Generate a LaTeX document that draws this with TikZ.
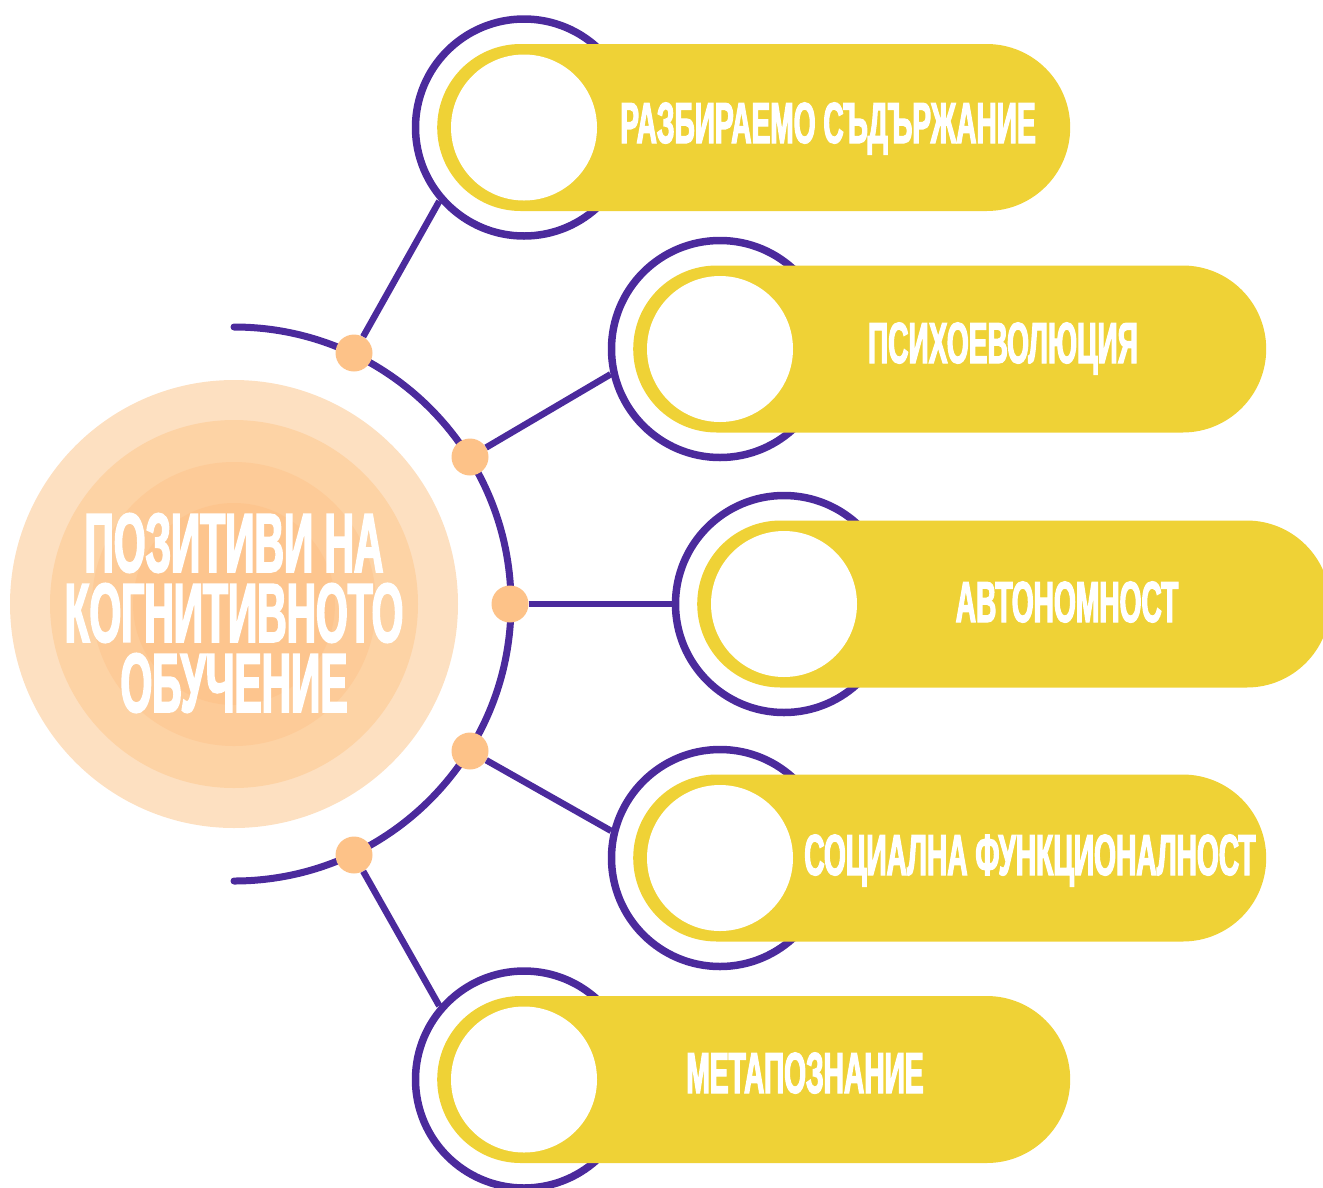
\documentclass[tikz,border=0pt]{standalone}
\usepackage{fontspec}
\usetikzlibrary{shapes.misc}
\newfontfamily\condfont{Liberation Sans}[FakeStretch=0.485,FakeBold=2]
\definecolor{ringpurple}{HTML}{4B2A9C}
\definecolor{pillyellow}{HTML}{EFD236}
\definecolor{dotorange}{HTML}{FDC288}
\definecolor{peachA}{HTML}{FDE0C1}
\definecolor{peachB}{HTML}{FDD3A5}
\definecolor{peachC}{HTML}{FDCB98}
\definecolor{peachD}{HTML}{FDC58E}

\begin{document}
\begin{tikzpicture}[x=1pt, y=-1pt,
	ring/.style={circle, draw=ringpurple, line width=7.5pt, minimum size=217pt, inner sep=0pt},
	pill/.style={rounded rectangle, fill=pillyellow, minimum width=633pt, minimum height=167pt, inner sep=0pt, anchor=west},
	disk/.style={circle, fill=white, minimum size=146pt, inner sep=0pt},
	knot/.style={circle, fill=dotorange, minimum size=37pt, inner sep=0pt},
	link/.style={ringpurple, line width=6.5pt},
	itemtext/.style={text=white, inner sep=0pt, anchor=base, font=\condfont\bfseries\fontsize{58}{58}\selectfont}]
\clip (0,0) rectangle (1323,1187);

% centre
\node[circle, fill=peachA, minimum size=448pt, inner sep=0pt] (hub) at (234,604) {};
\foreach \r/\c in {368/peachB, 284/peachC, 202/peachD}{
	\node[circle, fill=\c, minimum size=\r pt, inner sep=0pt] at (hub) {};
}
\node[text=white, align=center, inner sep=0pt, font=\condfont\bfseries\fontsize{84}{70}\selectfont] (title) at (234,613) {ПОЗИТИВИ НА\\КОГНИТИВНОТО\\ОБУЧЕНИЕ};

% big arc
\coordinate (arctop) at (234,327);
\draw[link, line width=7pt, line cap=round] (arctop) arc[start angle=-90, end angle=90, radius=277];

% items
\foreach \n/\cx/\cy/\ang/\kx/\ky/\tx/\ty/\txt in {
	1/524/127.5/221/354/353/828/143/РАЗБИРАЕМО СЪДЪРЖАНИЕ,
	2/720/349/193.5/470/457/1003/363/ПСИХОЕВОЛЮЦИЯ,
	3/784/604/180/510/604/1067/622/АВТОНОМНОСТ,
	4/720/858/166.5/470/751/1030/875/СОЦИАЛНА ФУНКЦИОНАЛНОСТ,
	5/524/1079.5/139/354/855/805/1093/МЕТАПОЗНАНИЕ}{
	\node[knot] (knot\n) at (\kx,\ky) {};
	\node[ring] (ring\n) at (\cx,\cy) {};
	\draw[link] (knot\n) -- (ring\n.\ang);
	\node[pill] (pill\n) at (\cx-87,\cy) {};
	\node[disk] (disk\n) at (ring\n) {};
	\node[itemtext] (label\n) at (\tx,\ty) {\txt};
}
\end{tikzpicture}
\end{document}
